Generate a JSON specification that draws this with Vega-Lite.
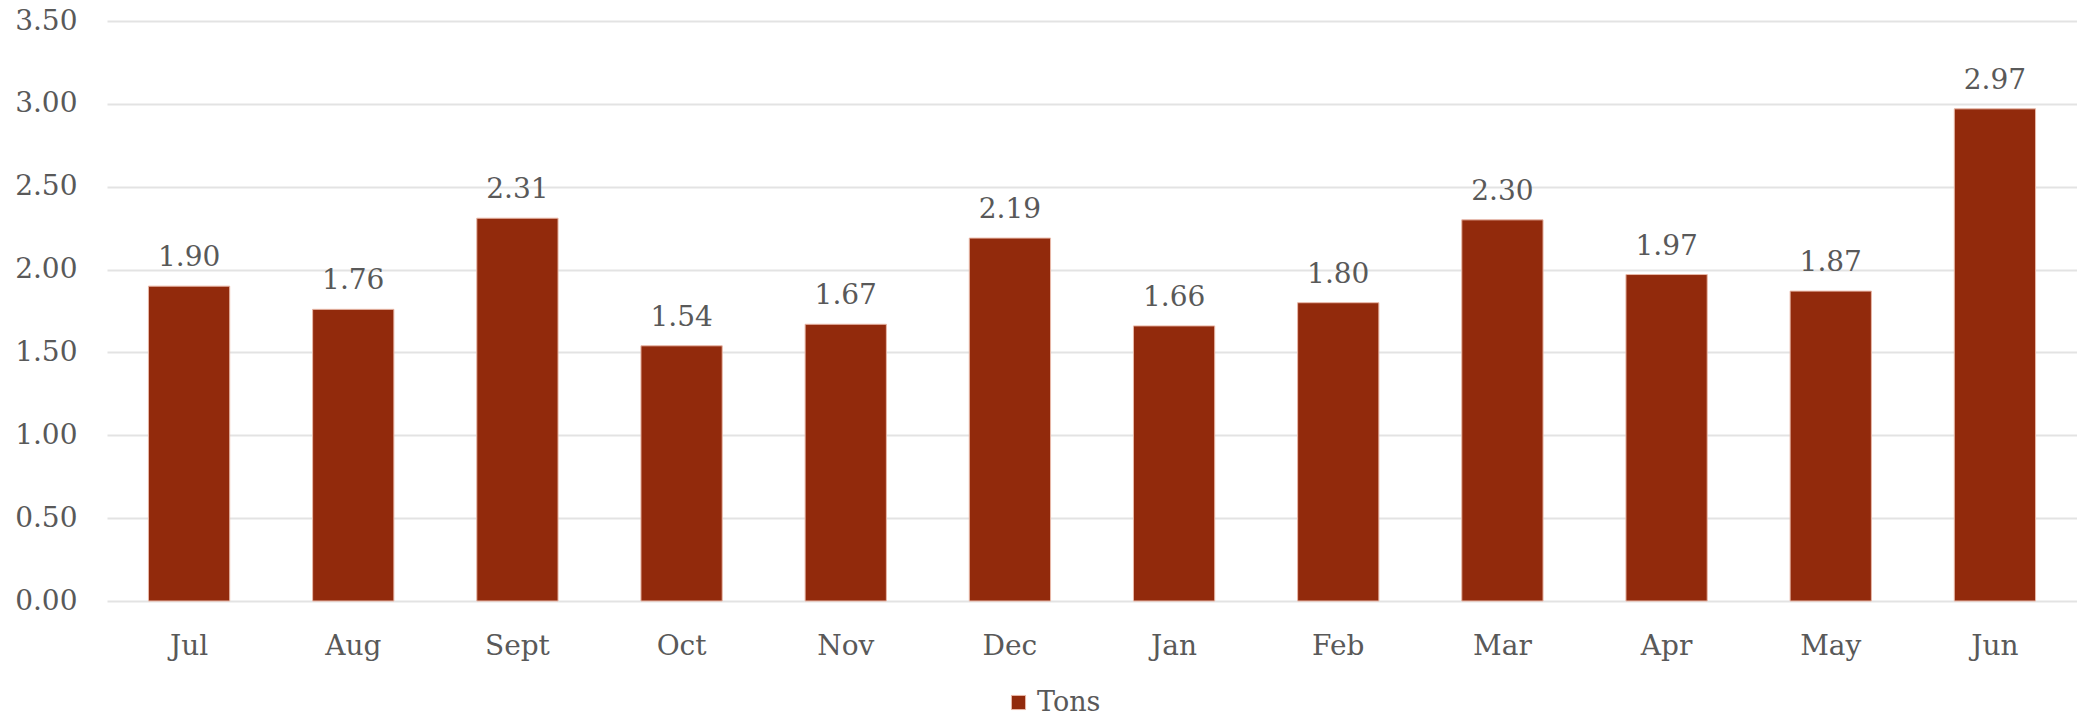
{
  "$schema": "https://vega.github.io/schema/vega-lite/v6.json",
  "autosize": "none",
  "width": 1970,
  "height": 580,
  "padding": {"left": 107, "top": 21, "right": 0, "bottom": 118},
  "background": "white",
  "config": {
    "view": {"stroke": null},
    "font": "DejaVu Serif",
    "axis": {"labelFont": "DejaVu Serif", "labelColor": "#595959", "labelFontSize": 28}
  },
  "data": {
    "values": [
      {"month": "Jul", "value": 1.90, "series": "Tons"},
      {"month": "Aug", "value": 1.76, "series": "Tons"},
      {"month": "Sept", "value": 2.31, "series": "Tons"},
      {"month": "Oct", "value": 1.54, "series": "Tons"},
      {"month": "Nov", "value": 1.67, "series": "Tons"},
      {"month": "Dec", "value": 2.19, "series": "Tons"},
      {"month": "Jan", "value": 1.66, "series": "Tons"},
      {"month": "Feb", "value": 1.80, "series": "Tons"},
      {"month": "Mar", "value": 2.30, "series": "Tons"},
      {"month": "Apr", "value": 1.97, "series": "Tons"},
      {"month": "May", "value": 1.87, "series": "Tons"},
      {"month": "Jun", "value": 2.97, "series": "Tons"}
    ]
  },
  "encoding": {
    "x": {
      "field": "month", "type": "nominal", "sort": null,
      "scale": {"paddingInner": 0.505, "paddingOuter": 0.2525},
      "axis": {"title": null, "labelAngle": 0, "ticks": false, "domain": false, "labelPadding": 53, "labelBaseline": "alphabetic", "labelOffset": 0}
    },
    "y": {
      "field": "value", "type": "quantitative",
      "scale": {"domain": [0, 3.5], "nice": false},
      "axis": {"title": null, "values": [0, 0.5, 1, 1.5, 2, 2.5, 3, 3.5], "format": ".2f", "ticks": false, "domain": false, "gridColor": "#e3e3e3", "gridWidth": 2, "labelPadding": 30}
    }
  },
  "layer": [
    {
      "mark": {"type": "bar", "stroke": "#e9b8a8", "strokeWidth": 1},
      "encoding": {
        "color": {
          "field": "series", "type": "nominal",
          "scale": {"range": ["#922a0c"]},
          "legend": {
            "title": null, "orient": "none", "legendX": 898, "legendY": 668,
            "direction": "horizontal", "symbolType": "square", "symbolSize": 200,
            "labelFontSize": 27, "labelColor": "#595959", "labelFont": "DejaVu Serif",
            "symbolStrokeColor": "#e9b8a8", "symbolStrokeWidth": 1, "labelOffset": 5, "padding": 0
          }
        }
      }
    },
    {
      "mark": {"type": "text", "baseline": "alphabetic", "dy": -20, "fontSize": 28, "color": "#595959", "font": "DejaVu Serif"},
      "encoding": {"text": {"field": "value", "type": "quantitative", "format": ".2f"}}
    }
  ]
}
